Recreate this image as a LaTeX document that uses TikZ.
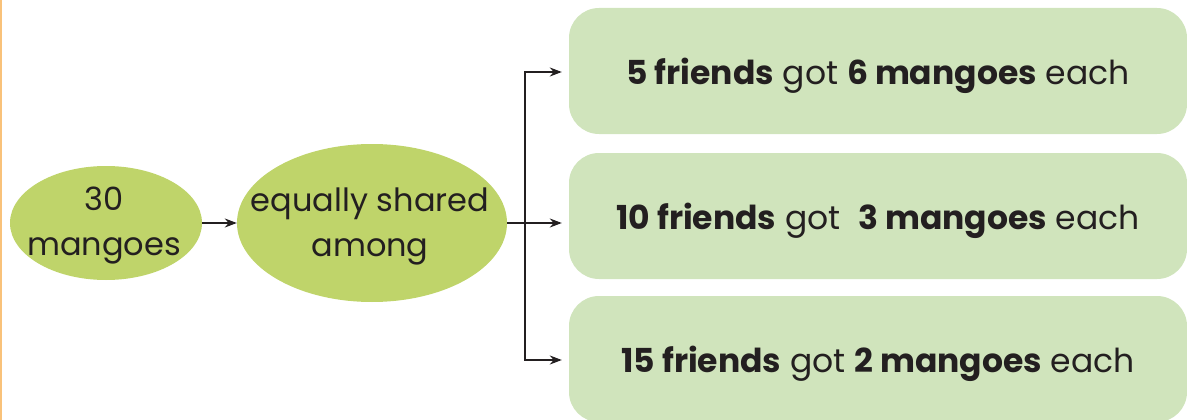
\documentclass[tikz,border=0pt]{standalone}
\usepackage{fontspec}
\setmainfont{Poppins}
\usetikzlibrary{shapes.geometric,arrows.meta}
\definecolor{leafgreen}{HTML}{BFD46A}
\definecolor{palegreen}{HTML}{D0E4BC}
\definecolor{edgeorange}{HTML}{F9C27A}
\definecolor{inkgrey}{HTML}{231F20}
\begin{document}
\begin{tikzpicture}[x=1pt,y=-1pt,
  blob/.style={ellipse,fill=leafgreen,inner sep=0pt},
  blobtext/.style={align=center,inner sep=0pt,
    font=\fontsize{32}{45}\selectfont,text=inkgrey},
  resultbox/.style={rounded corners=30pt,fill=palegreen,inner sep=0pt,
    minimum width=618pt,minimum height=126pt},
  boxtext/.style={inner sep=0pt,font=\fontsize{33}{40}\selectfont,text=inkgrey},
  link/.style={draw=inkgrey,line width=1.2pt,-{Stealth[length=12pt,width=9pt]}}]
  \useasboundingbox (0,0) rectangle (1187,420);
  \fill[edgeorange] (0,0) rectangle (2,420);
  % ovals, with their text set on top
  \node[blob,minimum width=192pt,minimum height=114pt] (total) at (106,223) {};
  \node[blobtext] (totaltext) at (104,226) {30\\mangoes};
  \node[blob,minimum width=270pt,minimum height=158pt] (share) at (372,223) {};
  \node[blobtext] (sharetext) at (370,226) {equally shared\\among};
  % result boxes, with their text set on top
  \node[resultbox] (r1) at (878,71) {};
  \node[boxtext] (r1text) at (878,76) {\textbf{5 friends} got \textbf{6 mangoes} each};
  \node[resultbox] (r2) at (878,216) {};
  \node[boxtext] (r2text) at (878,221) {\textbf{10 friends} got \ \textbf{3 mangoes} each};
  \node[resultbox] (r3) at (878,359) {};
  \node[boxtext] (r3text) at (878,364) {\textbf{15 friends} got \textbf{2 mangoes} each};
  % connectors
  \coordinate (fork) at (525,223);
  \draw[link] (total.east) -- (share.west);
  \draw[draw=inkgrey,line width=1.2pt] (share.east) -- (fork);
  \draw[link] (fork) |- ([xshift=-7pt]r1.west |- 0,72);
  \draw[link] (fork) -- ([xshift=-7pt]r2.west |- 0,223);
  \draw[link] (fork) |- ([xshift=-7pt]r3.west |- 0,360);
\end{tikzpicture}
\end{document}
